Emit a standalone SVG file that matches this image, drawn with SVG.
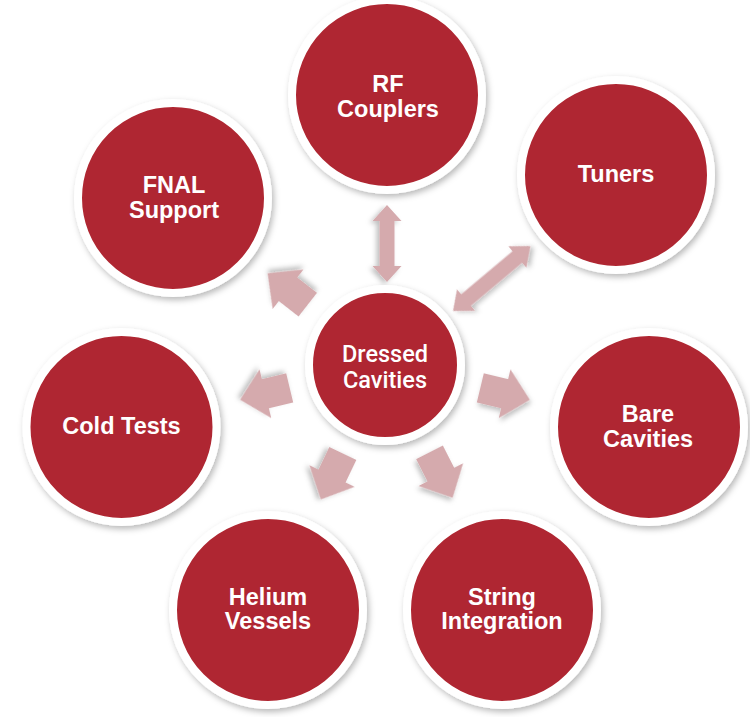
<svg xmlns="http://www.w3.org/2000/svg" width="750" height="717" viewBox="0 0 750 717">
<defs>
<filter id="sh" x="-20%" y="-20%" width="140%" height="140%">
<feDropShadow dx="2" dy="3" stdDeviation="3" flood-color="#000" flood-opacity="0.28"/>
</filter>
<filter id="ash" x="-30%" y="-30%" width="160%" height="160%">
<feDropShadow dx="2" dy="3" stdDeviation="2.5" flood-color="#000" flood-opacity="0.25"/>
</filter>
<path id="out" d="M0,-15 L25,-15 L25,-25 L51,0 L25,25 L25,15 L0,15 Z"/>
</defs>
<style>
.c{fill:#AF2630;stroke:#fff;stroke-width:8;filter:url(#sh)}
.t{font-family:"Liberation Sans",Arial,sans-serif;font-weight:bold;font-size:23.5px;fill:#fff;text-anchor:middle}
.d{font-family:Roboto,"Liberation Sans",sans-serif;font-weight:500;font-size:23.5px;fill:#fff;text-anchor:middle}
.a{fill:#D5AAAD;filter:url(#ash)}
</style>
<rect width="750" height="717" fill="#fff"/>
<g id="connectors">
<path class="a" transform="translate(387 205) rotate(90)" d="M0,0 L16,-14.5 L16,-7.5 L61,-7.5 L61,-14.5 L77,0 L61,14.5 L61,7.5 L16,7.5 L16,14.5 Z"/>
<path class="a" transform="translate(453 311) rotate(-40)" d="M0,0 L17,-14 L17,-7.5 L84,-7.5 L84,-14 L101,0 L84,14 L84,7.5 L17,7.5 L17,14 Z"/>
<use href="#out" class="a" transform="translate(385 365) rotate(218) translate(98 0)"/>
<use href="#out" class="a" transform="translate(385 365) rotate(166.5) translate(98 0)"/>
<use href="#out" class="a" transform="translate(385 365) rotate(13.5) translate(98 0)"/>
<use href="#out" class="a" transform="translate(385 365) rotate(115.5) translate(98 0)"/>
<use href="#out" class="a" transform="translate(385 365) rotate(63) translate(98 0)"/>
</g>
<g id="rf-couplers">
<circle class="c" cx="387" cy="95" r="95"/>
<text class="t"><tspan x="388" y="92">RF</tspan><tspan x="388" y="117">Couplers</tspan></text>
</g>
<g id="tuners">
<circle class="c" cx="616" cy="175" r="95"/>
<text class="t" x="616" y="182">Tuners</text>
</g>
<g id="fnal-support">
<circle class="c" cx="173" cy="198" r="95"/>
<text class="t"><tspan x="174" y="193">FNAL</tspan><tspan x="174" y="218">Support</tspan></text>
</g>
<g id="cold-tests">
<circle class="c" cx="121.5" cy="427" r="95"/>
<text class="t" x="121.5" y="434">Cold Tests</text>
</g>
<g id="bare-cavities">
<circle class="c" cx="649" cy="427" r="95"/>
<text class="t"><tspan x="648" y="422">Bare</tspan><tspan x="648" y="447">Cavities</tspan></text>
</g>
<g id="helium-vessels">
<circle class="c" cx="268" cy="610" r="95"/>
<text class="t"><tspan x="268" y="605">Helium</tspan><tspan x="268" y="629">Vessels</tspan></text>
</g>
<g id="string-integration">
<circle class="c" cx="502" cy="610" r="95"/>
<text class="t"><tspan x="502" y="605">String</tspan><tspan x="502" y="629">Integration</tspan></text>
</g>
<g id="dressed-cavities">
<circle class="c" cx="385" cy="365" r="76"/>
<text class="d"><tspan x="385" y="362">Dressed</tspan><tspan x="385" y="388">Cavities</tspan></text>
</g>
</svg>
